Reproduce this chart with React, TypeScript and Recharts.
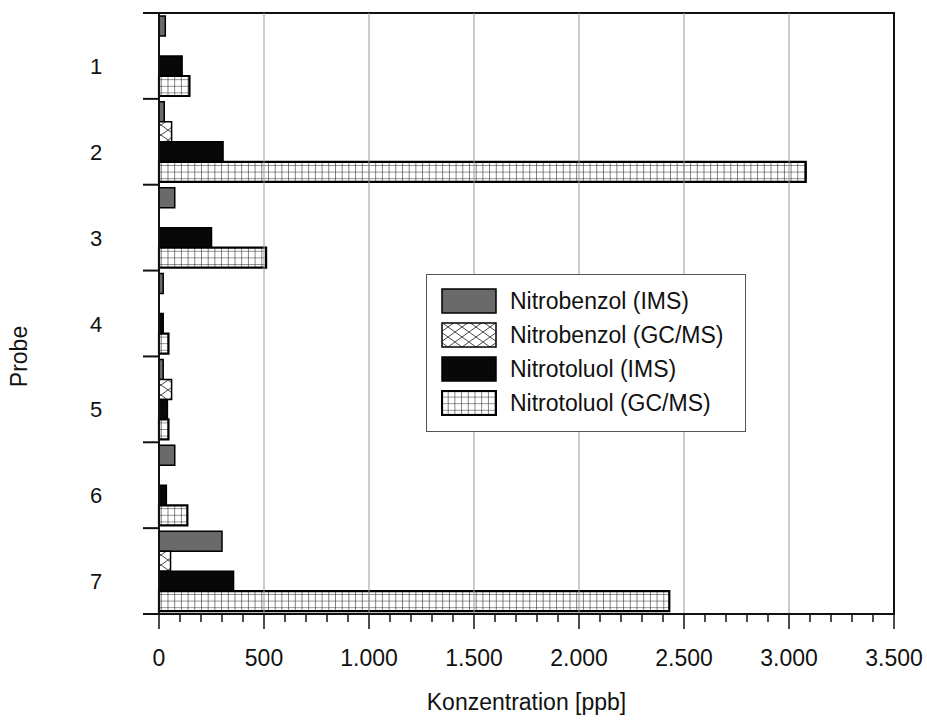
import { BarChart, Bar, XAxis, YAxis, Legend, ReferenceLine, ReferenceArea } from "recharts";

const probes = ["1", "2", "3", "4", "5", "6", "7"];
const nitrobenzolIms = [30, 25, 75, 20, 20, 75, 300];
const nitrobenzolGcms = [0, 60, 0, 0, 60, 0, 55];
const nitrotoluolIms = [110, 305, 250, 20, 40, 35, 355];
const nitrotoluolGcms = [145, 3080, 510, 45, 45, 135, 2430];

const gridValues = [500, 1000, 1500, 2000, 2500, 3000];
const allTicks = [
  0, 100, 200, 300, 400, 500, 600, 700, 800, 900, 1000, 1100, 1200, 1300, 1400,
  1500, 1600, 1700, 1800, 1900, 2000, 2100, 2200, 2300, 2400, 2500, 2600, 2700,
  2800, 2900, 3000, 3100, 3200, 3300, 3400, 3500,
];

const series = [
  { key: "nbIms", name: "Nitrobenzol (IMS)", fill: "#6a6a6a", sw: 1.5 },
  { key: "nbGcms", name: "Nitrobenzol (GC/MS)", fill: "url(#xhatch)", sw: 1.5 },
  { key: "ntIms", name: "Nitrotoluol (IMS)", fill: "#080808", sw: 1.5 },
  { key: "ntGcms", name: "Nitrotoluol (GC/MS)", fill: "url(#gridpat)", sw: 2.2 },
];

const data = probes.map((p, i) => ({
  probe: p,
  nbIms: nitrobenzolIms[i],
  nbGcms: nitrobenzolGcms[i],
  ntIms: nitrotoluolIms[i],
  ntGcms: nitrotoluolGcms[i],
}));

const ink = "#111";

const fmt = (v: number) => v.toLocaleString("de-DE");

function XTick(props: any) {
  const { x, y, payload } = props;
  const major = payload.value % 500 === 0;
  return (
    <g>
      <line x1={x} x2={x} y1={y - 15} y2={y - 15 + (major ? 15 : 8)} stroke={ink} strokeWidth={1.5} />
      {major && (
        <text x={x} y={y + 37} textAnchor="middle" fontSize={23} fill={ink}>
          {fmt(payload.value)}
        </text>
      )}
    </g>
  );
}

function YTick(props: any) {
  const { x, y, payload, index } = props;
  const half = payload.offset || 601 / 14;
  return (
    <g>
      <line x1={x} x2={x + 16} y1={y - half} y2={y - half} stroke={ink} strokeWidth={2} />
      {index === probes.length - 1 && (
        <line x1={x} x2={x + 16} y1={y + half} y2={y + half} stroke={ink} strokeWidth={2} />
      )}
      <text x={x - 47} y={y + 18} textAnchor="middle" fontSize={22} fill={ink}>
        {payload.value}
      </text>
    </g>
  );
}

function LegendBox() {
  return (
    <div
      style={{
        border: "1px solid #555",
        background: "#fff",
        boxSizing: "border-box",
        width: 320,
        height: 158,
        padding: "9px 0 0 14px",
      }}
    >
      {series.map((s) => (
        <div key={s.key} style={{ display: "flex", alignItems: "center", height: 34 }}>
          <svg width={56} height={26} style={{ display: "block" }}>
            <rect x={1} y={1} width={54} height={24} fill={s.fill} stroke="#000" strokeWidth={s.sw} />
          </svg>
          <span style={{ marginLeft: 13, fontSize: 23, color: ink }}>{s.name}</span>
        </div>
      ))}
    </div>
  );
}

export default function App() {
  return (
    <div
      style={{
        position: "absolute",
        left: 0,
        top: 0,
        width: 927,
        height: 721,
        background: "#fff",
        fontFamily: "'Liberation Sans', Arial, sans-serif",
      }}
    >
      <svg width={0} height={0} style={{ position: "absolute" }}>
        <defs>
          <pattern id="xhatch" patternUnits="userSpaceOnUse" width={14} height={10}>
            <rect width={14} height={10} fill="#fff" />
            <path d="M0,0 L14,10 M14,0 L0,10" stroke="#333" strokeWidth={0.9} />
          </pattern>
          <pattern id="gridpat" patternUnits="userSpaceOnUse" width={6.7} height={6.6}>
            <rect width={6.7} height={6.6} fill="#fff" />
            <path d="M0,0 L6.7,0 M0,0 L0,6.6" stroke="#222" strokeWidth={1.1} />
          </pattern>
        </defs>
      </svg>
      <BarChart
        width={927}
        height={721}
        data={data}
        layout="vertical"
        margin={{ top: 13, right: 33, bottom: 7, left: 0 }}
        barCategoryGap={3}
        barGap={0}
      >
        <XAxis
          type="number"
          domain={[0, 3500]}
          ticks={allTicks}
          interval={0}
          tick={<XTick />}
          tickLine={false}
          tickSize={15}
          tickMargin={0}
          height={100}
          axisLine={{ stroke: ink, strokeWidth: 2 }}
          label={{ value: "Konzentration [ppb]", position: "insideBottom", offset: 4, fontSize: 23, fill: ink }}
        />
        <YAxis
          type="category"
          dataKey="probe"
          width={159}
          tick={<YTick />}
          tickLine={false}
          tickSize={16}
          tickMargin={0}
          axisLine={{ stroke: ink, strokeWidth: 2 }}
          label={{
            content: (p: any) => {
              const vb = p.viewBox;
              const cx = vb.x + 19;
              const cy = vb.y + vb.height / 2 + 43;
              return (
                <text x={cx} y={cy} transform={`rotate(-90 ${cx} ${cy})`} textAnchor="middle" dominantBaseline="central" fontSize={23} fill={ink}>
                  Probe
                </text>
              );
            },
          }}
        />
        {gridValues.map((v) => (
          <ReferenceLine key={v} x={v} stroke="#9a9a9a" strokeWidth={1} />
        ))}
        <ReferenceArea x1={0} x2={3500} fill="none" fillOpacity={0} stroke={ink} strokeWidth={2} ifOverflow="visible" />
        <Legend
          layout="horizontal"
          verticalAlign="middle"
          align="center"
          content={() => <LegendBox />}
          wrapperStyle={{ left: 426, top: 274, width: 320, height: 158 }}
        />
        {series.map((s) => (
          <Bar
            key={s.key}
            dataKey={s.key}
            name={s.name}
            fill={s.fill}
            stroke="#000"
            strokeWidth={s.sw}
            isAnimationActive={false}
          />
        ))}
      </BarChart>
    </div>
  );
}
